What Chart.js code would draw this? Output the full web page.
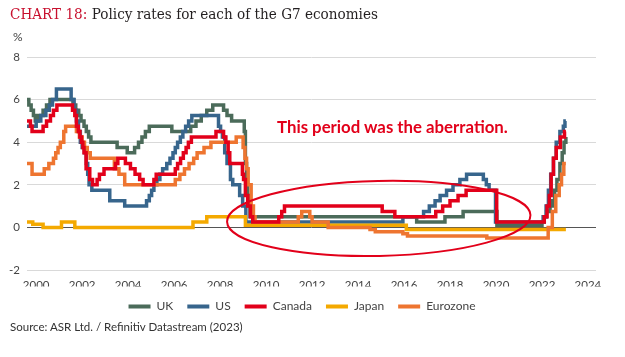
<!DOCTYPE html>
<html>
<head>
<meta charset="utf-8">
<script src="https://cdn.jsdelivr.net/npm/chart.js@4.4.1/dist/chart.umd.min.js"></script>
<style>
  html, body { margin: 0; padding: 0; background: #ffffff; }
  #wrap { position: relative; width: 625px; height: 357px; overflow: hidden; }
  #chartBox { position: absolute; left: 0; top: 0; width: 625px; height: 357px; }
  .txt { position: absolute; white-space: nowrap; line-height: 1; transform-origin: 0 0; }
  #title { left: 10px; top: 7px; font-family: "DejaVu Serif", serif; font-size: 14.5px; color: #231f20; }
  #title .lead { color: #c8102e; }
  #unit { left: 13px; top: 31px; font-family: Lato, sans-serif; font-size: 12px; color: #444; }
  #note { left: 277px; top: 119px; font-family: Lato, sans-serif; font-weight: bold; font-size: 15px; color: #e2001a; }
  #source { left: 10px; top: 321px; font-family: Lato, sans-serif; font-size: 12.5px; color: #333; }
</style>
</head>
<body>
<div id="wrap">
  <div id="chartBox"><canvas id="c"></canvas></div>
  <div class="txt" id="title"><span class="lead">CHART 18:</span> Policy rates for each of the G7 economies</div>
  <div class="txt" id="unit">%</div>
  <div class="txt" id="note">This period was the aberration.</div>
  <div class="txt" id="source">Source: ASR Ltd. / Refinitiv Datastream (2023)</div>
</div>
<script>
// ---------- data (year, policy rate %) : each rate holds from that date on ----------
const seriesNames = ['UK', 'US', 'Canada', 'Japan', 'Eurozone'];

const ukRate = [
  [1999.6,6.0],[1999.68,5.75],[1999.78,5.5],[1999.88,5.25],[1999.96,5.0],[2000.1,5.25],[2000.3,5.5],
  [2000.45,5.75],[2000.6,6.0],[2001.6,5.75],[2001.72,5.5],[2001.85,5.25],[2001.95,5.0],[2002.08,4.75],
  [2002.18,4.5],[2002.28,4.25],[2002.38,4.0],[2003.52,3.75],[2003.96,3.5],[2004.28,3.75],[2004.45,4.0],
  [2004.6,4.25],[2004.75,4.5],[2004.92,4.75],[2005.9,4.5],[2006.72,4.75],[2006.95,5.0],[2007.18,5.25],
  [2007.42,5.5],[2007.68,5.75],[2008.15,5.5],[2008.3,5.25],[2008.5,5.0],[2009.05,4.5],[2009.1,3.0],
  [2009.15,2.0],[2009.2,1.5],[2009.25,1.0],[2009.3,0.5],[2016.55,0.25],[2017.78,0.5],[2018.57,0.75],
  [2020.04,0.1],[2022.0,0.25],[2022.1,0.5],[2022.2,0.75],[2022.35,1.0],[2022.45,1.25],[2022.55,1.75],
  [2022.65,2.25],[2022.78,3.0],[2022.88,3.5],[2022.96,4.0],[2023.04,4.25]
];

const usRate = [
  [1999.6,4.75],[2000.0,5.0],[2000.2,5.25],[2000.42,5.5],[2000.57,5.75],[2000.71,6.0],[2000.88,6.5],
  [2001.52,6.0],[2001.65,5.5],[2001.75,5.0],[2001.84,4.5],[2001.92,4.0],[2002.0,3.75],[2002.1,3.5],
  [2002.18,3.0],[2002.24,2.5],[2002.3,2.0],[2002.42,1.75],[2003.2,1.25],[2003.85,1.0],[2004.8,1.25],
  [2004.92,1.5],[2005.02,1.75],[2005.12,2.0],[2005.25,2.25],[2005.38,2.5],[2005.5,2.75],[2005.68,3.0],
  [2005.82,3.25],[2005.95,3.5],[2006.05,3.75],[2006.15,4.0],[2006.27,4.25],[2006.38,4.5],[2006.5,4.75],
  [2006.63,5.0],[2006.77,5.25],[2007.93,4.75],[2008.02,4.5],[2008.1,4.25],[2008.2,3.5],[2008.3,3.0],
  [2008.45,2.25],[2008.55,2.0],[2008.85,1.5],[2008.98,1.0],[2009.12,0.25],[2015.95,0.5],[2016.85,0.75],
  [2017.1,1.0],[2017.35,1.25],[2017.57,1.5],[2017.85,1.75],[2018.13,2.0],[2018.43,2.25],[2018.72,2.5],
  [2019.45,2.25],[2019.58,2.0],[2019.7,1.75],[2019.98,0.25],[2022.05,0.5],[2022.18,1.0],[2022.28,1.75],
  [2022.38,2.5],[2022.5,3.25],[2022.62,4.0],[2022.78,4.5],[2022.93,4.75],[2023.0,5.0],[2023.04,5.0]
];

const canadaRate = [
  [1999.6,5.0],[1999.75,4.75],[1999.82,4.5],[2000.3,4.75],[2000.45,5.0],[2000.62,5.25],[2000.75,5.5],
  [2000.9,5.75],[2001.58,5.5],[2001.68,5.25],[2001.75,4.75],[2001.83,4.5],[2001.9,4.25],[2001.97,4.0],
  [2002.03,3.75],[2002.08,3.5],[2002.17,2.75],[2002.33,2.25],[2002.45,2.0],[2002.65,2.25],[2002.75,2.5],
  [2002.95,2.75],[2003.45,3.0],[2003.55,3.25],[2003.88,3.0],[2004.1,2.75],[2004.3,2.5],[2004.5,2.25],
  [2004.65,2.0],[2005.12,2.25],[2005.22,2.5],[2006.05,2.75],[2006.15,3.0],[2006.28,3.25],[2006.4,3.5],
  [2006.52,3.75],[2006.62,4.0],[2006.75,4.25],[2007.82,4.5],[2008.15,4.25],[2008.25,4.0],[2008.35,3.5],
  [2008.42,3.0],[2008.97,2.5],[2009.02,2.25],[2009.1,1.5],[2009.2,1.0],[2009.32,0.5],[2009.42,0.25],
  [2010.55,0.5],[2010.68,0.75],[2010.8,1.0],[2015.05,0.75],[2015.6,0.5],[2017.38,0.75],[2017.68,1.0],
  [2018.0,1.25],[2018.35,1.5],[2018.7,1.75],[2020.03,0.25],[2022.1,0.5],[2022.22,1.0],[2022.32,1.5],
  [2022.4,2.5],[2022.5,3.25],[2022.62,3.75],[2022.8,4.25],[2022.98,4.5],[2023.04,4.5]
];

const japanRate = [
  [1999.6,0.25],[1999.85,0.15],[2000.3,0.0],[2001.1,0.25],[2001.68,0.0],[2006.82,0.25],[2007.42,0.5],
  [2009.1,0.1],[2016.1,-0.1],[2023.04,-0.1]
];

const eurozoneRate = [
  [1999.6,3.0],[1999.82,2.5],[2000.35,2.75],[2000.55,3.0],[2000.75,3.25],[2000.85,3.5],[2000.95,3.75],
  [2001.05,4.0],[2001.2,4.5],[2001.28,4.75],[2001.75,4.5],[2001.88,4.25],[2002.0,4.0],[2002.1,3.75],
  [2002.22,3.5],[2002.35,3.25],[2003.4,2.75],[2003.6,2.5],[2003.85,2.0],[2006.05,2.25],[2006.25,2.5],
  [2006.45,2.75],[2006.65,3.0],[2006.85,3.25],[2007.0,3.5],[2007.3,3.75],[2007.6,4.0],[2008.7,4.25],
  [2009.0,3.75],[2009.08,3.25],[2009.15,2.75],[2009.22,2.0],[2009.35,1.0],[2009.45,0.5],[2009.52,0.25],
  [2011.4,0.5],[2011.55,0.75],[2011.9,0.5],[2012.0,0.25],[2012.7,0.0],[2014.52,-0.1],[2014.75,-0.2],
  [2015.95,-0.3],[2016.15,-0.4],[2019.6,-0.5],[2022.27,0.0],[2022.45,0.75],[2022.6,1.5],[2022.75,2.0],
  [2022.85,2.5],[2022.95,3.0],[2023.04,3.0]
];

const xTicks = [2000, 2002, 2004, 2006, 2008, 2010, 2012, 2014, 2016, 2018, 2020, 2022, 2024];
const yTicks = [-2, 0, 2, 4, 6, 8];

// highlighted period (ellipse) in data units: centre year, centre rate, half-width (years), half-height (pp)
const ellipseCentre = [2014.9, 0.42];
const ellipseRadii = [6.6, 1.76];

// ---------- styling ----------
const seriesData = [ukRate, usRate, canadaRate, japanRate, eurozoneRate];
const seriesColors = ['#4b6b5a', '#37658c', '#e2001a', '#f4a900', '#ee7530'];
const drawOrder = [4, 3, 0, 2, 1]; // lower = drawn on top

const datasets = seriesNames.map((name, i) => ({
  label: name,
  data: seriesData[i].map(([x, y]) => ({ x, y })),
  borderColor: seriesColors[i],
  backgroundColor: seriesColors[i],
  borderWidth: 3.5,
  pointRadius: 0,
  pointHoverRadius: 0,
  stepped: 'before',
  fill: false,
  order: drawOrder[i]
}));

const ellipsePlugin = {
  id: 'periodEllipse',
  afterDatasetsDraw(chart) {
    const { ctx, scales: { x, y } } = chart;
    const cx = x.getPixelForValue(ellipseCentre[0]);
    const cy = y.getPixelForValue(ellipseCentre[1]);
    const rx = Math.abs(x.getPixelForValue(ellipseCentre[0] + ellipseRadii[0]) - cx);
    const ry = Math.abs(y.getPixelForValue(ellipseCentre[1] + ellipseRadii[1]) - cy);
    ctx.save();
    ctx.beginPath();
    ctx.ellipse(cx, cy, rx, ry, -0.022, 0, Math.PI * 2);
    ctx.strokeStyle = '#e2001a';
    ctx.lineWidth = 2;
    ctx.stroke();
    ctx.restore();
  }
};

const tickFont = { family: 'Lato', size: 11.5 };

new Chart(document.getElementById('c'), {
  type: 'line',
  data: { datasets },
  plugins: [ellipsePlugin],
  options: {
    responsive: true,
    maintainAspectRatio: false,
    animation: false,
    events: [],
    layout: { padding: { left: 8, right: 29, top: 57, bottom: 34.5 } },
    plugins: {
      tooltip: { enabled: false },
      legend: {
        display: true,
        position: 'bottom',
        labels: {
          boxWidth: 22,
          boxHeight: 4,
          padding: 14,
          color: '#444',
          font: { family: 'Lato', size: 12 },
          sort: (a, b) => a.datasetIndex - b.datasetIndex,
          generateLabels: (chart) => {
            const items = Chart.defaults.plugins.legend.labels.generateLabels(chart);
            items.forEach(it => { it.lineWidth = 0; });
            return items;
          }
        }
      }
    },
    scales: {
      x: {
        type: 'linear',
        min: 1999.6,
        max: 2024.35,
        afterBuildTicks: (s) => { s.ticks = xTicks.map(v => ({ value: v })); },
        afterFit: (s) => { s.height = 16.5; },
        grid: { display: false, drawTicks: false },
        border: { display: false },
        ticks: { padding: 8, color: '#444', font: tickFont, maxRotation: 0, autoSkip: false, callback: (v) => String(v) }
      },
      y: {
        min: -2,
        max: 8,
        afterBuildTicks: (s) => { s.ticks = yTicks.map(v => ({ value: v })); },
        afterFit: (s) => { s.width = 19; },
        grid: {
          drawTicks: false,
          lineWidth: 1,
          color: (c) => (c.tick && c.tick.value === 0) ? '#555555' : '#d9d9d9'
        },
        border: { display: false },
        ticks: { padding: 7, color: '#444', font: tickFont, callback: (v) => String(v) }
      }
    }
  }
});

// stretch/compress the overlay texts horizontally to the widths they take in the reference
function fitScale(id, target) {
  const el = document.getElementById(id);
  const w = el.getBoundingClientRect().width;
  if (w > 0) el.style.transform = 'scaleX(' + (target / w).toFixed(4) + ')';
}
function fitWidth(id, target) {
  const el = document.getElementById(id);
  const fs = parseFloat(getComputedStyle(el).fontSize);
  const w = el.getBoundingClientRect().width;
  if (w > 0) el.style.fontSize = (fs * target / w).toFixed(2) + 'px';
}
fitScale('title', 368);
fitWidth('note', 231);
fitWidth('source', 233);
</script>
</body>
</html>
